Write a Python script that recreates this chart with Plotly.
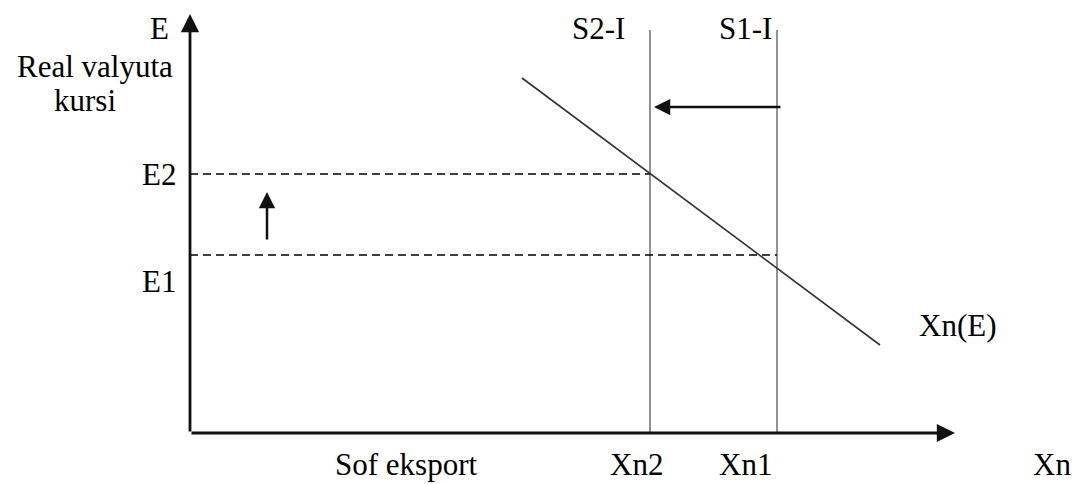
import plotly.graph_objects as go

# the page body has an 8px margin, so the figure is sized to fill the rest
WIDTH = 1074
HEIGHT = 476

# schematic values (chart units, origin at the axis corner)
e_labels = ["E1", "E2"]
e_levels = [178, 259]
s_labels = ["S1-I", "S2-I"]
xn_labels = ["Xn1", "Xn2"]
xn_levels = [587, 460]
s_top = 403

# Xn(E) net export curve
demand_x = [332, 690]
demand_y = [355, 88]

# axis extents
x_axis_end = 765
y_axis_end = 419

# shift arrows
shift_x_tail, shift_x_tip, shift_x_y = 592, 464, 326
rise_x, rise_tail, rise_tip = 77, 192, 241

FONT = dict(family="Liberation Serif, Times New Roman, serif", size=31, color="black")

fig = go.Figure()

# vertical S-I lines
for xv in xn_levels:
    fig.add_trace(go.Scatter(x=[xv, xv], y=[0, s_top], mode="lines",
                             line=dict(color="#6e6e6e", width=1.5), hoverinfo="skip"))

# dashed E levels, running to the S-I line they belong to
for ev, xv in zip(e_levels, xn_levels):
    fig.add_trace(go.Scatter(x=[0, xv], y=[ev, ev], mode="lines",
                             line=dict(color="black", width=1.7, dash="8px,5px"), hoverinfo="skip"))

# demand curve
fig.add_trace(go.Scatter(x=demand_x, y=demand_y, mode="lines",
                         line=dict(color="#333333", width=1.6), hoverinfo="skip"))


def arrow(x_tip, y_tip, x_tail, y_tail, width=2.5):
    fig.add_annotation(x=x_tip, y=y_tip, ax=x_tail, ay=y_tail, xref="x", yref="y",
                       axref="x", ayref="y", text="", showarrow=True,
                       arrowhead=2, arrowsize=1.3, arrowwidth=width, arrowcolor="#111111")


# axes with arrows
arrow(0, y_axis_end, 0, 0, 2.8)
arrow(x_axis_end, 0, 0, 0, 2.8)
# shift arrows
arrow(shift_x_tip, shift_x_y, shift_x_tail, shift_x_y)
arrow(rise_x, rise_tip, rise_x, rise_tail)


def label(text, x, y, anchor="center"):
    fig.add_annotation(x=x, y=y, xref="x", yref="y", text=text, showarrow=False,
                       font=FONT, xanchor=anchor, yanchor="middle")


label("E", -31, 405)
label("Real valyuta", -95, 367)
label("kursi", -105, 333)
for lab, ev in zip(e_labels, e_levels):
    label(lab, -31, ev + (-26 if lab == "E1" else 0))
label("S2-I", 408, 405)
label("S1-I", 555, 405)
label("Xn(E)", 767, 108)
# bottom row of labels, kept just inside the page
label("Sof eksport", 216, -31)
for lab, xv in zip(xn_labels, xn_levels):
    label(lab, xv - 32 if lab == "Xn1" else xv - 14, -31)
label("Xn", 862, -31)

fig.update_layout(
    width=WIDTH,
    height=HEIGHT,
    margin=dict(l=0, r=0, t=0, b=0),
    plot_bgcolor="white",
    paper_bgcolor="white",
    showlegend=False,
    xaxis=dict(range=[-182, 892], visible=False, fixedrange=True),
    yaxis=dict(range=[-51, 425], visible=False, fixedrange=True),
)

fig.write_html("out.html")
